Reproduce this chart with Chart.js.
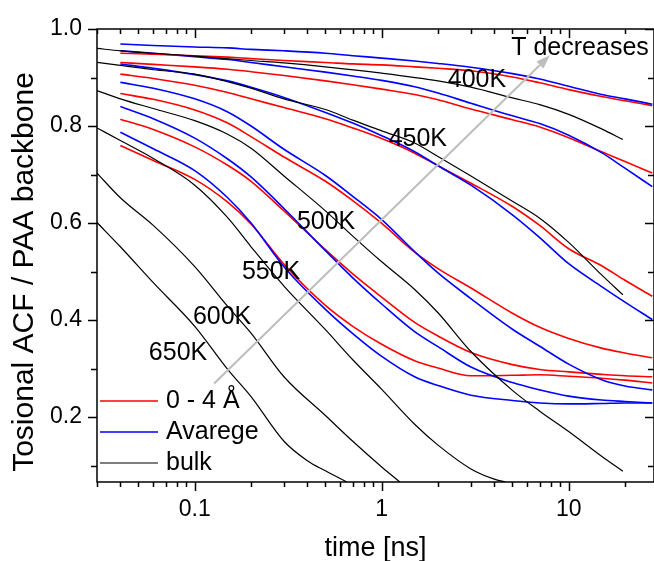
<!DOCTYPE html>
<html>
<head>
<meta charset="utf-8">
<script src="https://cdn.jsdelivr.net/npm/chart.js@4.4.0/dist/chart.umd.min.js"></script>
<style>
  html, body { margin: 0; padding: 0; background: #fff; }
</style>
</head>
<body>
<canvas id="myChart" width="654" height="561"></canvas>
<script>
// time grid shared by the film curves (0 - 4 A layer and film average)
const FILM_T = [0.04, 0.06, 0.1, 0.15, 0.2, 0.3, 0.5, 0.7, 1, 1.5, 2, 3, 5, 7, 10, 15, 20, 28];

const RED_400K  = [0.950, 0.948, 0.945, 0.942, 0.939, 0.935, 0.931, 0.928, 0.926, 0.922, 0.919, 0.914, 0.901, 0.889, 0.875, 0.861, 0.852, 0.842];
const BLUE_400K = [0.969, 0.966, 0.963, 0.961, 0.958, 0.955, 0.950, 0.945, 0.940, 0.934, 0.929, 0.921, 0.908, 0.897, 0.882, 0.865, 0.856, 0.845];
const RED_450K  = [0.931, 0.927, 0.922, 0.917, 0.912, 0.904, 0.893, 0.885, 0.876, 0.865, 0.854, 0.835, 0.813, 0.798, 0.776, 0.747, 0.727, 0.703];
const BLUE_450K = [0.955, 0.950, 0.943, 0.937, 0.931, 0.922, 0.911, 0.903, 0.894, 0.881, 0.868, 0.847, 0.821, 0.805, 0.781, 0.745, 0.713, 0.675];
const RED_500K  = [0.907, 0.898, 0.884, 0.869, 0.856, 0.838, 0.815, 0.796, 0.774, 0.744, 0.718, 0.682, 0.634, 0.595, 0.547, 0.512, 0.482, 0.449];
const BLUE_500K = [0.928, 0.919, 0.906, 0.893, 0.880, 0.859, 0.828, 0.806, 0.780, 0.747, 0.718, 0.678, 0.617, 0.570, 0.516, 0.469, 0.437, 0.401];
const RED_550K  = [0.867, 0.855, 0.833, 0.806, 0.778, 0.736, 0.686, 0.646, 0.599, 0.540, 0.506, 0.466, 0.414, 0.385, 0.362, 0.342, 0.332, 0.322];
const BLUE_550K = [0.890, 0.878, 0.856, 0.829, 0.800, 0.752, 0.698, 0.655, 0.607, 0.541, 0.497, 0.444, 0.381, 0.346, 0.309, 0.277, 0.264, 0.256];
const RED_600K  = [0.814, 0.793, 0.757, 0.719, 0.686, 0.625, 0.545, 0.495, 0.447, 0.395, 0.367, 0.333, 0.308, 0.298, 0.293, 0.288, 0.285, 0.283];
const BLUE_600K = [0.840, 0.815, 0.775, 0.732, 0.695, 0.630, 0.543, 0.487, 0.433, 0.376, 0.345, 0.303, 0.271, 0.256, 0.243, 0.235, 0.232, 0.229];
const RED_650K  = [0.760, 0.729, 0.690, 0.643, 0.598, 0.515, 0.430, 0.387, 0.350, 0.316, 0.301, 0.285, 0.286, 0.287, 0.284, 0.280, 0.276, 0.270];
const BLUE_650K = [0.787, 0.753, 0.708, 0.652, 0.600, 0.510, 0.422, 0.372, 0.325, 0.283, 0.265, 0.245, 0.234, 0.229, 0.227, 0.228, 0.229, 0.229];

// bulk curves, each with its own time samples
const BULK_400K_T = [0.03, 0.04, 0.06, 0.1, 0.2, 0.3, 0.5, 1, 2, 3, 5, 7, 10, 15, 19.5];
const BULK_400K   = [0.960, 0.955, 0.950, 0.944, 0.935, 0.930, 0.922, 0.909, 0.893, 0.880, 0.858, 0.844, 0.824, 0.794, 0.772];
const BULK_450K_T = [0.03, 0.04, 0.06, 0.1, 0.2, 0.3, 0.5, 0.7, 1, 1.5, 2, 3, 5, 7, 10, 15, 19.5];
const BULK_450K   = [0.931, 0.925, 0.916, 0.907, 0.878, 0.856, 0.834, 0.812, 0.790, 0.765, 0.737, 0.697, 0.645, 0.610, 0.560, 0.493, 0.452];
const BULK_500K_T = [0.03, 0.04, 0.06, 0.1, 0.15, 0.2, 0.3, 0.5, 0.7, 1, 1.5, 2, 3, 5, 7, 10, 15, 19.5];
const BULK_500K   = [0.873, 0.856, 0.836, 0.811, 0.783, 0.754, 0.697, 0.625, 0.573, 0.520, 0.463, 0.415, 0.335, 0.255, 0.212, 0.170, 0.119, 0.088];
const BULK_550K_T = [0.03, 0.04, 0.06, 0.1, 0.15, 0.2, 0.3, 0.5, 0.7, 1, 1.5, 2, 3, 4, 4.6];
const BULK_550K   = [0.796, 0.770, 0.733, 0.678, 0.611, 0.551, 0.470, 0.380, 0.318, 0.257, 0.185, 0.142, 0.093, 0.072, 0.066];
const BULK_600K_T = [0.03, 0.04, 0.06, 0.1, 0.15, 0.2, 0.3, 0.5, 0.7, 1, 1.25];
const BULK_600K   = [0.703, 0.652, 0.595, 0.510, 0.428, 0.373, 0.283, 0.203, 0.150, 0.097, 0.066];
const BULK_650K_T = [0.03, 0.04, 0.06, 0.1, 0.15, 0.2, 0.3, 0.4, 0.5, 0.65];
const BULK_650K   = [0.601, 0.551, 0.477, 0.387, 0.298, 0.242, 0.150, 0.110, 0.089, 0.066];

// axes
const X_TICKS = [0.03, 0.04, 0.05, 0.06, 0.07, 0.08, 0.09, 0.1, 0.2, 0.3, 0.4, 0.5, 0.6, 0.7, 0.8, 0.9,
                 1, 2, 3, 4, 5, 6, 7, 8, 9, 10, 20];
const X_LABELED = [0.1, 1, 10];
const Y_TICKS = [0.1, 0.2, 0.3, 0.4, 0.5, 0.6, 0.7, 0.8, 0.9, 1.0];
const Y_LABELED = [0.2, 0.4, 0.6, 0.8, 1.0];

const LEGEND_NAMES = ["0 - 4 Å", "Avarege", "bulk"];
const TEMP_LABELS = ["400K", "450K", "500K", "550K", "600K", "650K"];

const FONT = "'Liberation Sans', Arial, Helvetica, sans-serif";
const RED = "#ff0000", BLUE = "#0000ff", BLACK = "#000000", ARROW = "#bdbdbd";

// where the annotations sit, in data units (time, ACF)
const TEMP_LABEL_POS = [[3.23, 0.895], [1.56, 0.772], [0.504, 0.601], [0.256, 0.498], [0.140, 0.407], [0.0814, 0.331]];
const T_LABEL_POS = [11.5, 0.961];
const ARROW_FROM = [0.127, 0.269];
const ARROW_TO = [7.94, 0.946];

const pts = (ts, vs) => ts.map((t, i) => ({ x: t, y: vs[i] }));

const film = [
  [RED_400K, BLUE_400K], [RED_450K, BLUE_450K], [RED_500K, BLUE_500K],
  [RED_550K, BLUE_550K], [RED_600K, BLUE_600K], [RED_650K, BLUE_650K],
];
const bulk = [
  [BULK_400K_T, BULK_400K], [BULK_450K_T, BULK_450K], [BULK_500K_T, BULK_500K],
  [BULK_550K_T, BULK_550K], [BULK_600K_T, BULK_600K], [BULK_650K_T, BULK_650K],
];

const datasets = [];
bulk.forEach(([ts, vs], i) => {
  datasets.push({ label: "bulk " + TEMP_LABELS[i], data: pts(ts, vs), borderColor: BLACK, borderWidth: 1.2 });
});
film.forEach(([r, b], i) => {
  datasets.push({ label: "Avarege " + TEMP_LABELS[i], data: pts(FILM_T, b), borderColor: BLUE, borderWidth: 1.6 });
  datasets.push({ label: "0 - 4 Å " + TEMP_LABELS[i], data: pts(FILM_T, r), borderColor: RED, borderWidth: 1.6 });
});

const decor = {
  id: "decor",
  afterDatasetsDraw(chart) {
    const { ctx, chartArea: a, scales: { x, y } } = chart;
    ctx.save();

    // frame and ticks (outward on left/bottom, inward on top/right)
    ctx.strokeStyle = BLACK;
    ctx.lineWidth = 1.5;
    ctx.beginPath();
    ctx.rect(a.left, a.top, a.right - a.left, a.bottom - a.top);
    X_TICKS.forEach(v => {
      const px = Math.round(x.getPixelForValue(v)) + 0.5;
      const len = X_LABELED.includes(v) ? 9 : 5;
      ctx.moveTo(px, a.bottom); ctx.lineTo(px, a.bottom + len);
      ctx.moveTo(px, a.top); ctx.lineTo(px, a.top + len);
    });
    Y_TICKS.forEach(v => {
      const py = Math.round(y.getPixelForValue(v)) + 0.5;
      const len = Y_LABELED.includes(v) ? 9 : 6;
      ctx.moveTo(a.left, py); ctx.lineTo(a.left - len, py);
      ctx.moveTo(a.right, py); ctx.lineTo(a.right - len, py);
    });
    ctx.stroke();

    // arrow
    const x0 = x.getPixelForValue(ARROW_FROM[0]), y0 = y.getPixelForValue(ARROW_FROM[1]);
    const x1 = x.getPixelForValue(ARROW_TO[0]), y1 = y.getPixelForValue(ARROW_TO[1]);
    const ang = Math.atan2(y1 - y0, x1 - x0);
    const head = 14, half = 5;
    ctx.strokeStyle = ARROW;
    ctx.fillStyle = ARROW;
    ctx.lineWidth = 2;
    ctx.beginPath();
    ctx.moveTo(x0, y0);
    ctx.lineTo(x1 - head * Math.cos(ang), y1 - head * Math.sin(ang));
    ctx.stroke();
    ctx.beginPath();
    ctx.moveTo(x1, y1);
    ctx.lineTo(x1 - head * Math.cos(ang) + half * Math.sin(ang), y1 - head * Math.sin(ang) - half * Math.cos(ang));
    ctx.lineTo(x1 - head * Math.cos(ang) - half * Math.sin(ang), y1 - head * Math.sin(ang) + half * Math.cos(ang));
    ctx.closePath();
    ctx.fill();

    // text annotations
    ctx.fillStyle = BLACK;
    ctx.font = "25px " + FONT;
    ctx.textAlign = "center";
    ctx.textBaseline = "middle";
    TEMP_LABELS.forEach((t, i) => {
      const [tx, ty] = TEMP_LABEL_POS[i];
      ctx.fillText(t, x.getPixelForValue(tx), y.getPixelForValue(ty));
    });
    ctx.fillText("T decreases", x.getPixelForValue(T_LABEL_POS[0]), y.getPixelForValue(T_LABEL_POS[1]));

    // legend in the lower left corner
    const colors = [RED, BLUE, BLACK];
    const widths = [1.6, 1.6, 1.2];
    ctx.textAlign = "left";
    LEGEND_NAMES.forEach((name, i) => {
      const ly = 401 + i * 31;
      ctx.strokeStyle = colors[i];
      ctx.lineWidth = widths[i];
      ctx.beginPath();
      ctx.moveTo(a.left + 3, ly); ctx.lineTo(a.left + 61, ly);
      ctx.stroke();
      ctx.fillText(name, a.left + 69, ly);
    });

    // y axis title
    ctx.font = "30px " + FONT;
    ctx.textAlign = "center";
    ctx.translate(25, 272);
    ctx.rotate(-Math.PI / 2);
    ctx.fillText("Tosional ACF / PAA backbone", 0, 0);

    ctx.restore();
  }
};

const ctx = document.getElementById("myChart").getContext("2d");
const myChart = new Chart(ctx, {
  type: "line",
  data: { datasets },
  options: {
    responsive: false,
    animation: false,
    layout: { padding: { top: 29, right: 0, left: 0, bottom: 0 } },
    elements: {
      point: { radius: 0, hoverRadius: 0 },
      line: { cubicInterpolationMode: "monotone", fill: false },
    },
    plugins: { legend: { display: false }, tooltip: { enabled: false } },
    scales: {
      x: {
        type: "logarithmic",
        min: 0.03,
        max: 28.6,
        afterFit: s => { s.height = 79; },
        afterBuildTicks: s => { s.ticks = X_TICKS.map(v => ({ value: v })); },
        grid: { display: false, drawTicks: false },
        border: { display: false },
        ticks: {
          autoSkip: false,
          maxRotation: 0,
          padding: 14,
          color: BLACK,
          font: { family: FONT, size: 23 },
          callback: v => (X_LABELED.includes(v) ? String(v) : ""),
        },
        title: {
          display: true,
          text: "time [ns]",
          color: BLACK,
          font: { family: FONT, size: 27 },
          padding: { top: 0, bottom: -4 },
        },
      },
      y: {
        type: "linear",
        min: 0.066,
        max: 1.0,
        afterFit: s => { s.width = 97; },
        afterBuildTicks: s => { s.ticks = Y_TICKS.map(v => ({ value: v })); },
        grid: { display: false, drawTicks: false },
        border: { display: false },
        ticks: {
          autoSkip: false,
          padding: 15,
          color: BLACK,
          font: { family: FONT, size: 23 },
          callback: v => (Y_LABELED.includes(v) ? v.toFixed(1) : ""),
        },
      },
    },
  },
  plugins: [decor],
});
</script>
</body>
</html>
